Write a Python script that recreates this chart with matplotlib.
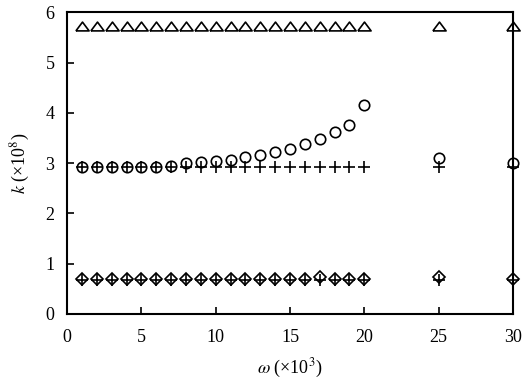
import matplotlib
matplotlib.use("Agg")
import matplotlib.pyplot as plt

plt.rcParams['font.family'] = 'Liberation Serif'
plt.rcParams['mathtext.fontset'] = 'stix'

# frequencies (x10^3)
w = list(range(1, 21)) + [25, 30]

# stiffness values (x10^8)
k_tri = [5.72] * 22
k_circ = [2.92, 2.92, 2.92, 2.93, 2.93, 2.93, 2.95, 3.0, 3.02, 3.04,
          3.07, 3.12, 3.17, 3.22, 3.29, 3.39, 3.49, 3.62, 3.76, 4.16,
          3.1, 3.0]
k_plus = [2.92] * 22
k_diam = [0.7, 0.7, 0.7, 0.7, 0.7, 0.7, 0.7, 0.7, 0.7, 0.7,
          0.7, 0.7, 0.7, 0.7, 0.7, 0.7, 0.74, 0.7, 0.7, 0.7,
          0.73, 0.7]
k_plus2 = [0.68] * 22

# slightly flattened open triangle
tri = [(-1.2, -0.8), (1.2, -0.8), (0, 0.8), (-1.2, -0.8)]

fig = plt.figure(figsize=(5.24, 3.87), dpi=100)
ax = fig.add_axes([0.128, 0.189, 0.851, 0.779])

mk = dict(linestyle='none', markerfacecolor='none', markeredgecolor='k',
          markeredgewidth=1.2, clip_on=False)
ax.plot(w, k_tri, marker=tri, markersize=9.5, **mk)
ax.plot(w, k_circ, marker='o', markersize=7.5, **mk)
ax.plot(w, k_plus, marker='+', markersize=9, **mk)
ax.plot(w, k_diam, marker='D', markersize=6, **mk)
ax.plot(w, k_plus2, marker='+', markersize=8, **mk)

ax.set_xlim(0, 30)
ax.set_ylim(0, 6)
ax.set_xticks(range(0, 31, 5))
ax.set_yticks(range(0, 7))
ax.tick_params(direction='in', length=5, width=1.2, labelsize=13)
ax.tick_params(axis='x', pad=11)
ax.tick_params(axis='y', pad=9)
for s in ax.spines.values():
    s.set_linewidth(1.5)

ax.set_xlabel(r'$\omega$ (×10$^3$)', fontsize=13, labelpad=8)
ax.set_ylabel(r'$k$ (×10$^8$)', fontsize=13, labelpad=10)

fig.savefig('out.png', dpi=100)
